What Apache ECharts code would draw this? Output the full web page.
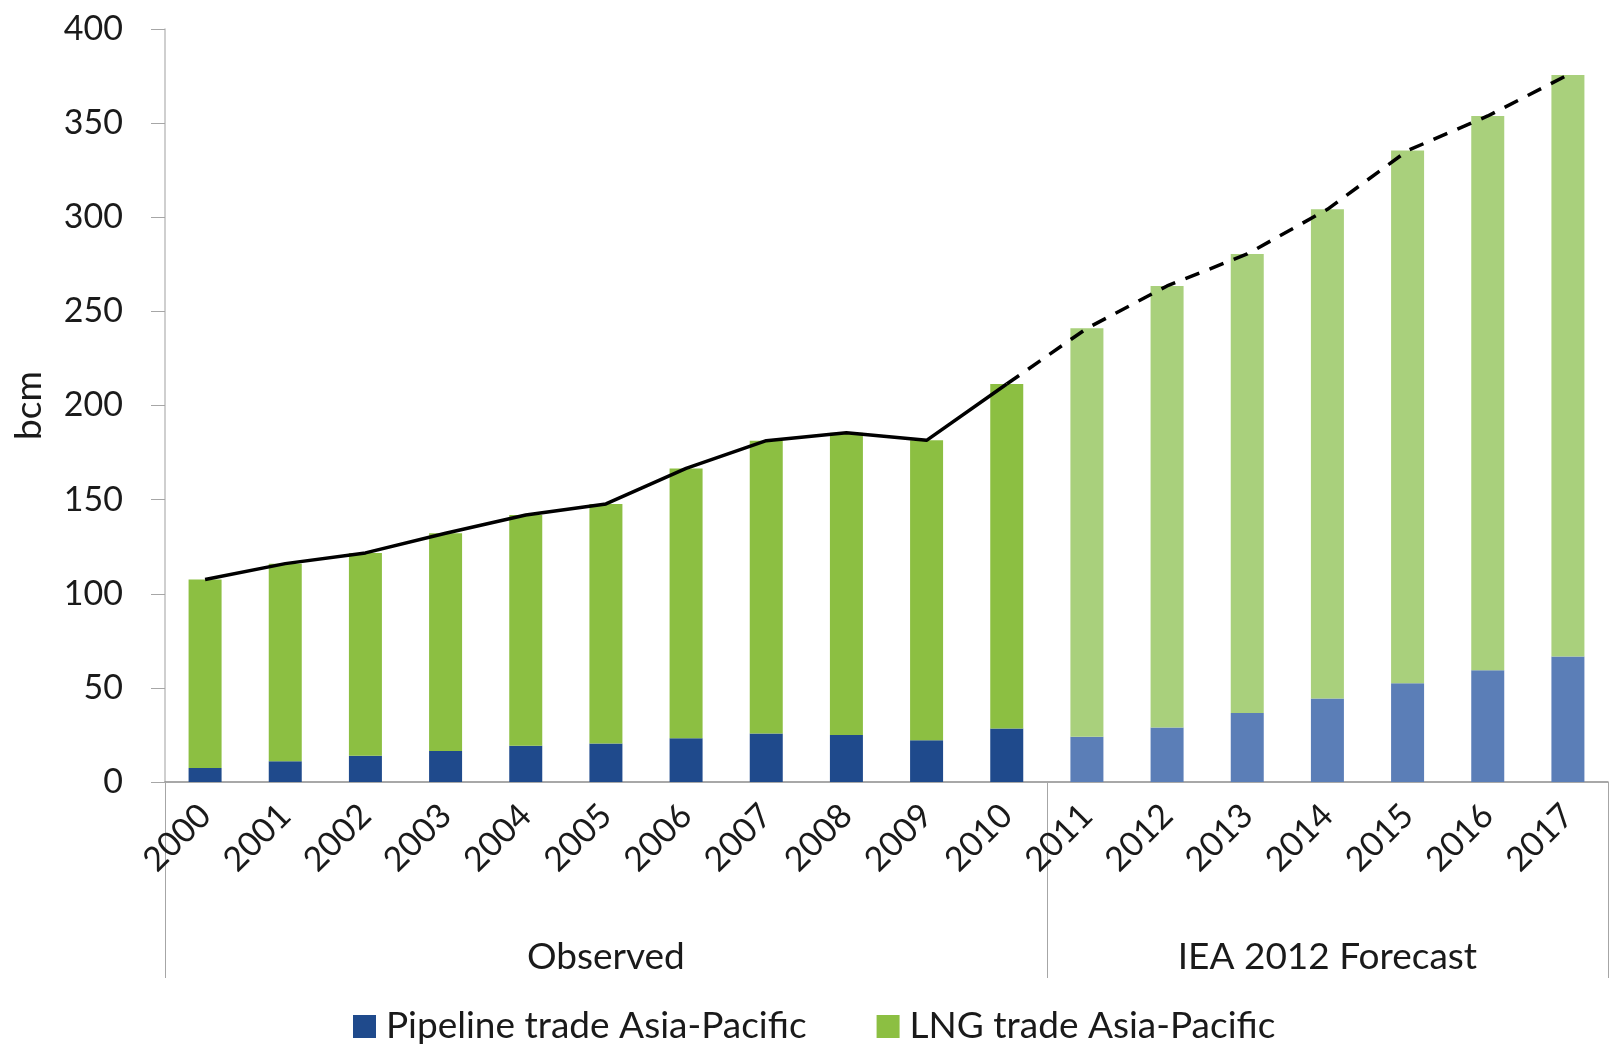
<!DOCTYPE html>
<html>
<head>
<meta charset="utf-8">
<script src="https://cdn.jsdelivr.net/npm/echarts@6/dist/echarts.min.js"></script>
<style>
html,body{margin:0;padding:0;background:#fff;}
#chart{width:1614px;height:1053px;}
</style>
</head>
<body>
<div id="chart"></div>
<script>
// ---- data ----
const years = ['2000','2001','2002','2003','2004','2005','2006','2007','2008','2009','2010','2011','2012','2013','2014','2015','2016','2017'];
const pipeline = [7.5, 11, 14, 16.5, 19.3, 20.4, 23.2, 25.7, 25, 22.2, 28.4, 24, 29, 36.6, 44.4, 52.4, 59.3, 66.7];
const lng = [100.1, 105, 107.7, 115.6, 122.5, 127.3, 143.4, 155.6, 160.5, 159.3, 183, 217, 234.5, 243.9, 259.8, 283, 294.5, 308.9];
const groupLabels = ['', '', '', '', '', 'Observed', '', '', '', '', '', '', '', '', 'IEA 2012 Forecast', '', '', ''];
const yTicks = [0, 50, 100, 150, 200, 250, 300, 350, 400];
const firstForecastIndex = 11;

// ---- styles ----
const FONT = 'Lato, "Open Sans", sans-serif';
const C_PIPE = '#1f4a8c', C_PIPE_F = '#5b7eb7';
const C_LNG = '#8cbf42', C_LNG_F = '#a9d07c';

const totals = pipeline.map((p, i) => +(p + lng[i]).toFixed(1));
const observedLine = totals.map((v, i) => i < firstForecastIndex ? v : '-');
const forecastLine = totals.map((v, i) => i >= firstForecastIndex - 1 ? v : '-');

const pipeData = pipeline.map((v, i) => ({ value: v, itemStyle: { color: i >= firstForecastIndex ? C_PIPE_F : C_PIPE } }));
const lngData = lng.map((v, i) => ({ value: v, itemStyle: { color: i >= firstForecastIndex ? C_LNG_F : C_LNG } }));

const chart = echarts.init(document.getElementById('chart'), null, { renderer: 'canvas' });
chart.setOption({
  animation: false,
  backgroundColor: '#fff',
  grid: { left: 165, right: 6, top: 29, bottom: 271, containLabel: false },
  legend: {
    data: ['Pipeline trade Asia-Pacific', 'LNG trade Asia-Pacific'],
    left: 348, top: 1003,
    itemWidth: 23, itemHeight: 23, itemGap: 70,
    icon: 'rect',
    textStyle: { fontFamily: FONT, fontSize: 37, color: '#1a1a1a', padding: [0, 0, 0, 5] }
  },
  xAxis: [{
    type: 'category',
    data: years,
    position: 'bottom',
    axisLine: { lineStyle: { color: '#8c8c8c', width: 1.5 } },
    axisTick: {
      show: true, inside: false, length: 196,
      interval: (idx) => idx === 0 || idx === firstForecastIndex,
      lineStyle: { color: '#a6a6a6', width: 1 }
    },
    axisLabel: {
      interval: 0, rotate: 45, margin: 28,
      fontFamily: FONT, fontSize: 34, color: '#1a1a1a'
    }
  }, {
    type: 'category',
    data: groupLabels,
    position: 'bottom',
    offset: 150,
    axisLine: { show: false },
    axisTick: { show: false },
    axisLabel: {
      interval: 0, margin: 25, verticalAlign: 'middle',
      fontFamily: FONT, fontSize: 37, color: '#1a1a1a'
    }
  }],
  yAxis: {
    type: 'value',
    min: yTicks[0], max: yTicks[yTicks.length - 1], interval: yTicks[1] - yTicks[0],
    name: 'bcm',
    nameLocation: 'middle',
    nameGap: 117,
    nameTextStyle: { fontFamily: FONT, fontSize: 37, color: '#1a1a1a' },
    axisLine: { show: true, lineStyle: { color: '#bfbfbf', width: 1.5 } },
    axisTick: { show: true, length: 14, lineStyle: { color: '#a6a6a6' } },
    axisLabel: { margin: 42, fontFamily: FONT, fontSize: 34, color: '#1a1a1a' },
    splitLine: { show: false }
  },
  series: [
    { name: 'Pipeline trade Asia-Pacific', type: 'bar', stack: 'total', barWidth: 33,
      itemStyle: { color: C_PIPE }, data: pipeData },
    { name: 'LNG trade Asia-Pacific', type: 'bar', stack: 'total', barWidth: 33,
      itemStyle: { color: C_LNG }, data: lngData },
    { name: 'Total observed', type: 'line', data: observedLine, symbol: 'none', z: 5,
      lineStyle: { color: '#000', width: 3.5 } },
    { name: 'Total forecast', type: 'line', data: forecastLine, symbol: 'none', z: 5,
      lineStyle: { color: '#000', width: 3.5, type: [15, 11] } }
  ]
});
</script>
</body>
</html>
